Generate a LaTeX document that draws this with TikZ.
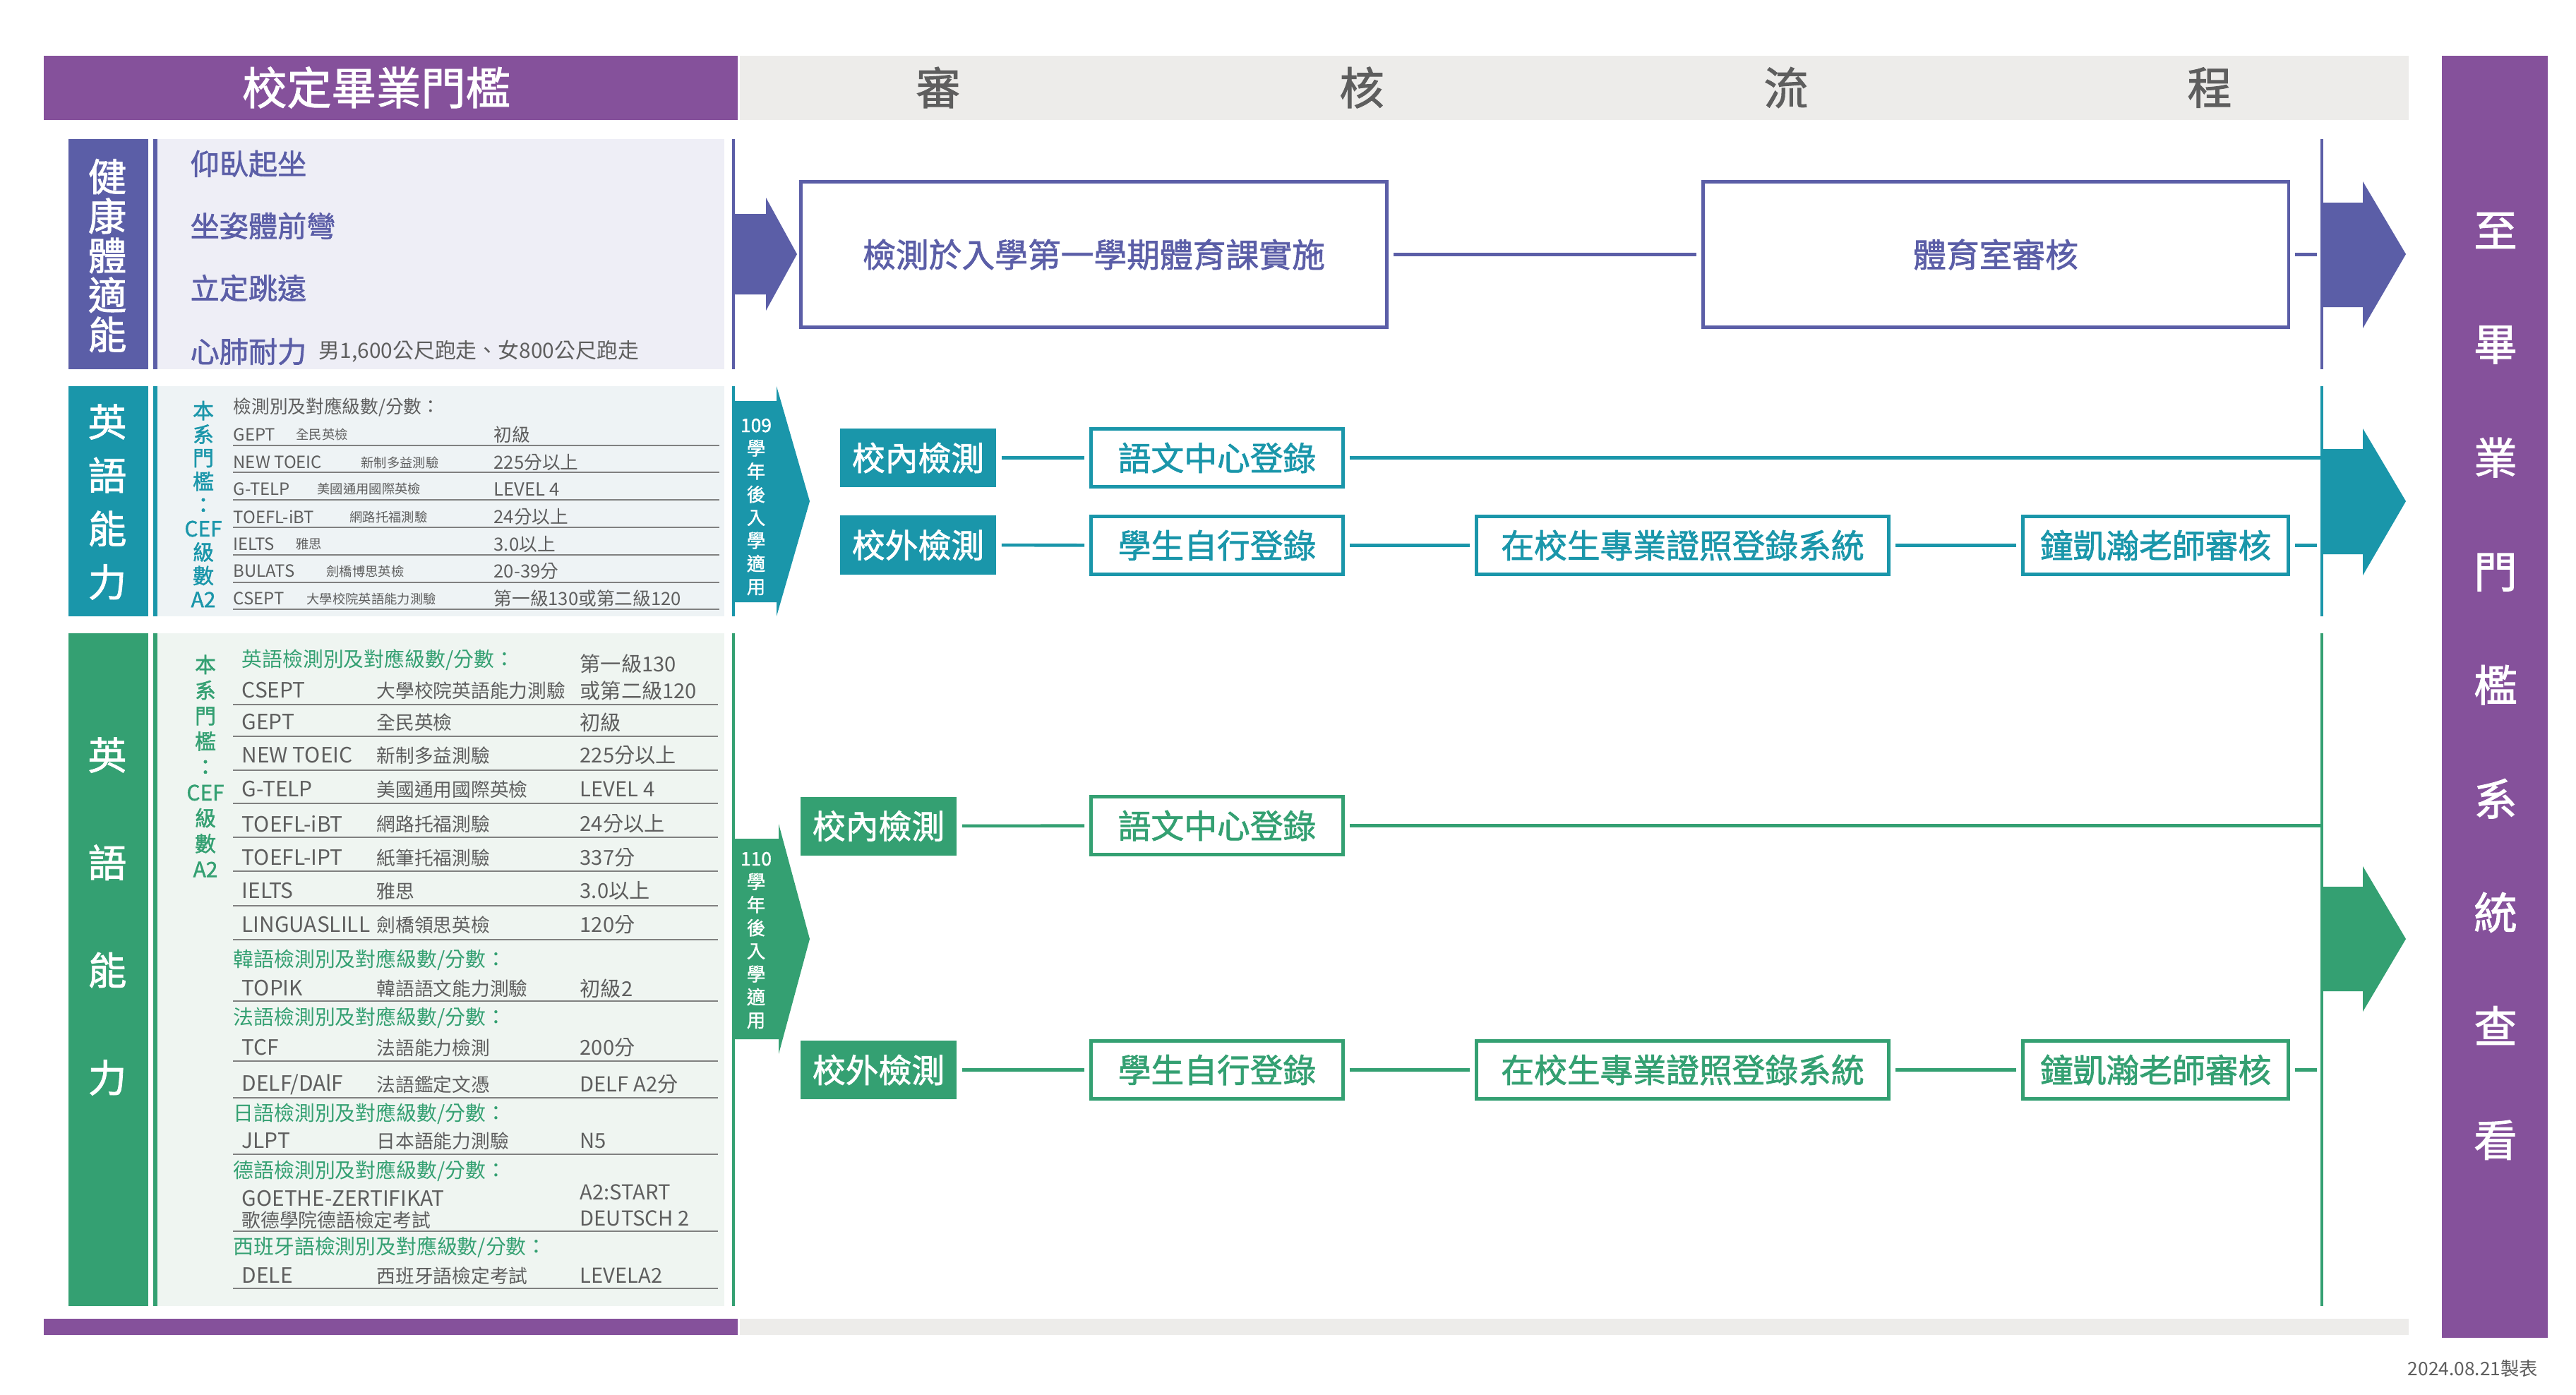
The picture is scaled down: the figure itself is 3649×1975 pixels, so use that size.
\documentclass[tikz,border=0pt]{standalone}
\usepackage{fontspec}
\setmainfont{Noto Sans CJK TC}
\newfontfamily\semib[FakeBold=1.5]{Noto Sans CJK TC}
\usetikzlibrary{positioning,calc}
\definecolor{grape}{HTML}{85519B}
\definecolor{indigo}{HTML}{5B5EA7}
\definecolor{lagoon}{HTML}{1A96AA}
\definecolor{jade}{HTML}{34A072}
\definecolor{mist}{HTML}{EEEEF6}
\definecolor{ice}{HTML}{EEF3F5}
\definecolor{mint}{HTML}{EFF5F1}
\definecolor{fog}{HTML}{EDECEA}
\definecolor{ink}{HTML}{5E5E5E}
\definecolor{rule}{HTML}{808080}
\newcommand{\pts}[2]{\fontsize{#1pt}{#2pt}\selectfont}
\tikzset{
  headtxt/.style={inner sep=0pt,font=\semib\pts{18}{20}},
  sidetxt/.style={text=white,align=center,inner sep=0pt,font=\semib\pts{17.5}{45.8}},
  bartxt/.style={text=white,align=center,inner sep=0pt,font=\semib\pts{15.5}{#1}},
  itemtxt/.style={anchor=west,inner sep=0pt,text=indigo,font=\semib\pts{11.7}{13}},
  notetxt/.style={anchor=west,inner sep=0pt,text=ink,font=\pts{8.5}{10}},
  cefv/.style={text=#1,align=center,inner sep=0pt},
  tagtxt/.style={text=white,align=center,inner sep=0pt,font=\semib\pts{7.5}{9.3}},
  thead/.style={anchor=west,inner sep=0pt,text=ink,font=\pts{7.3}{8}},
  tabbr/.style={anchor=west,inner sep=0pt,text=ink,font=\pts{6.8}{8}},
  tname/.style={anchor=west,inner sep=0pt,text=ink,font=\pts{5.2}{6}},
  tval/.style={anchor=west,inner sep=0pt,text=ink,font=\pts{7.3}{8}},
  ghead/.style={anchor=west,inner sep=0pt,text=jade,font=\pts{8.2}{9}},
  gabbr/.style={anchor=west,inner sep=0pt,text=ink,font=\pts{8.5}{9}},
  gname/.style={anchor=west,inner sep=0pt,text=ink,font=\pts{7.6}{9}},
  gval/.style={anchor=west,inner sep=0pt,text=ink,font=\pts{8.3}{9}},
  rowrule/.style={draw=rule,line width=0.6pt},
  testbox/.style={fill=#1,text=white,minimum width=2.21cm,minimum height=0.83cm,
    inner sep=0pt,font=\semib\pts{13.3}{15}},
  flowbox/.style={draw=#1,fill=white,text=#1,line width=1.3pt,minimum height=0.82cm,
    inner sep=0pt,font=\semib\pts{13.3}{15}},
  link/.style={draw=#1,line width=1.3pt,shorten <=2pt,shorten >=2pt},
  edgeline/.style={draw=#1,line width=1.3pt},
}

\begin{document}
\begin{tikzpicture}[x=0.01cm,y=-0.01cm]
  \fill[white] (0,0) rectangle (3649,1975);
  \useasboundingbox (0,0) rectangle (3649,1975);

  % header and frame
  \fill[grape] (62,79) rectangle (1045,170);
  \fill[fog] (1048,79) rectangle (3412,170);
  \node[headtxt,text=white] (gate) at (533,124) {校定畢業門檻};
  \node[headtxt,text=ink] (h1) at (1329,124) {審};
  \node[headtxt,text=ink] (h2) at (1929,124) {核};
  \node[headtxt,text=ink] (h3) at (2530,124) {流};
  \node[headtxt,text=ink] (h4) at (3130,124) {程};
  \fill[grape] (3459,79) rectangle (3609,1895);
  \node[sidetxt] (goal) at (3535,972) {至\\畢\\業\\門\\檻\\系\\統\\查\\看};
  \fill[grape] (62,1868) rectangle (1045,1891);
  \fill[fog] (1048,1868) rectangle (3412,1891);
  \node[anchor=east,inner sep=0pt,text=ink,font=\pts{7.5}{9}] (date) at (3596,1938) {2024.08.21製表};

  % fitness
  \fill[indigo] (97,197) rectangle (210,523);
  \fill[indigo] (217,197) rectangle (223,523);
  \fill[mist] (223,197) rectangle (1026,523);
  \draw[edgeline=indigo] (1039,197) -- (1039,523);
  \node[bartxt=15.9] (fit) at (152,362) {健\\康\\體\\適\\能};
  \node[itemtxt] (sit) at (269,232) {仰臥起坐};
  \node[itemtxt] (reach) at (269,320) {坐姿體前彎};
  \node[itemtxt] (jump) at (269,408) {立定跳遠};
  \node[itemtxt] (run) at (269,498) {心肺耐力};
  \node[notetxt,right=0.16cm of run] (runnote) {男1,600公尺跑走、女800公尺跑走};
  \fill[indigo] (1039,303) -- (1085,303) -- (1085,280) -- (1129,360) -- (1085,440) -- (1085,417) -- (1039,417) -- cycle;
  \node[flowbox=indigo,minimum width=8.30cm,minimum height=2.06cm] (pe) at (1549.5,360.5) {檢測於入學第一學期體育課實施};
  \node[flowbox=indigo,minimum width=8.29cm,minimum height=2.06cm] (gym) at (2827,360.5) {體育室審核};
  \coordinate (peend) at (3289,360.5);
  \draw[link=indigo] (pe) -- (gym);
  \draw[link=indigo] (gym) -- (peend);
  \draw[edgeline=indigo] (3289,197) -- (3289,523);
  \fill[indigo] (3289,287) -- (3347,287) -- (3347,257) -- (3408,360) -- (3347,465) -- (3347,435) -- (3289,435) -- cycle;

  % english, 109
  \fill[lagoon] (97,547) rectangle (210,873);
  \fill[lagoon] (217,547) rectangle (223,873);
  \fill[ice] (223,547) rectangle (1026,873);
  \draw[edgeline=lagoon] (1039,547) -- (1039,873);
  \node[bartxt=21.5] (engA) at (152,711) {英\\語\\能\\力};
  \node[cefv=lagoon,font=\semib\pts{8.5}{9.5}] (tcef) at (288,714) {本\\系\\門\\檻\\：\\CEF\\級\\數\\A2};
  \node[thead] (th) at (330,577) {檢測別及對應級數/分數：};
  \node[tabbr] (t1a) at (330,616) {GEPT};
  \node[tname] (t1b) at (419,616) {全民英檢};
  \node[tval] (t1c) at (699,616) {初級};
  \draw[rowrule] (330,631) -- (1019,631);
  \node[tabbr] (t2a) at (330,655) {NEW TOEIC};
  \node[tname] (t2b) at (511,655) {新制多益測驗};
  \node[tval] (t2c) at (699,655) {225分以上};
  \draw[rowrule] (330,669) -- (1019,669);
  \node[tabbr] (t3a) at (330,693) {G-TELP};
  \node[tname] (t3b) at (449,693) {美國通用國際英檢};
  \node[tval] (t3c) at (699,693) {LEVEL 4};
  \draw[rowrule] (330,708) -- (1019,708);
  \node[tabbr] (t4a) at (330,732) {TOEFL-iBT};
  \node[tname] (t4b) at (495,732) {網路托福測驗};
  \node[tval] (t4c) at (699,732) {24分以上};
  \draw[rowrule] (330,747) -- (1019,747);
  \node[tabbr] (t5a) at (330,771) {IELTS};
  \node[tname] (t5b) at (419,771) {雅思};
  \node[tval] (t5c) at (699,771) {3.0以上};
  \draw[rowrule] (330,786) -- (1019,786);
  \node[tabbr] (t6a) at (330,809) {BULATS};
  \node[tname] (t6b) at (462,809) {劍橋博思英檢};
  \node[tval] (t6c) at (699,809) {20-39分};
  \draw[rowrule] (330,825) -- (1019,825);
  \node[tabbr] (t7a) at (330,848) {CSEPT};
  \node[tname] (t7b) at (434,848) {大學校院英語能力測驗};
  \node[tval] (t7c) at (699,848) {第一級130或第二級120};
  \draw[rowrule] (330,863) -- (1019,863);
  \fill[lagoon] (1039,568) -- (1100,568) -- (1100,547) -- (1147,710) -- (1100,873) -- (1100,853) -- (1039,853) -- cycle;
  \node[tagtxt] (tagA) at (1071,718) {109\\學\\年\\後\\入\\學\\適\\用};
  \node[testbox=lagoon] (inA) at (1300.5,648.5) {校內檢測};
  \node[flowbox=lagoon,minimum width=3.57cm] (langA) at (1724,648.5) {語文中心登錄};
  \node[testbox=lagoon] (outA) at (1300.5,772) {校外檢測};
  \node[flowbox=lagoon,minimum width=3.57cm] (selfA) at (1724,772.5) {學生自行登錄};
  \node[flowbox=lagoon,minimum width=5.84cm] (certA) at (2383.5,772.5) {在校生專業證照登錄系統};
  \node[flowbox=lagoon,minimum width=3.76cm] (kaiA) at (3053.5,772.5) {鐘凱瀚老師審核};
  \coordinate (endA) at (3289,648.5);
  \coordinate (endB) at (3289,772.5);
  \draw[link=lagoon] (inA) -- (langA);
  \draw[link=lagoon,shorten >=0pt] (langA) -- (endA);
  \draw[link=lagoon] (outA) -- (selfA);
  \draw[link=lagoon] (selfA) -- (certA);
  \draw[link=lagoon] (certA) -- (kaiA);
  \draw[link=lagoon] (kaiA) -- (endB);
  \draw[edgeline=lagoon] (3289,547) -- (3289,873);
  \fill[lagoon] (3289,636) -- (3347,636) -- (3347,607) -- (3408,710) -- (3347,815) -- (3347,785) -- (3289,785) -- cycle;

  % english, 110
  \fill[jade] (97,897) rectangle (210,1850);
  \fill[jade] (217,897) rectangle (223,1850);
  \fill[mint] (223,897) rectangle (1026,1850);
  \draw[edgeline=jade] (1039,897) -- (1039,1850);
  \node[bartxt=43.3] (engB) at (152,1298) {英\\語\\能\\力};
  \node[cefv=jade,font=\semib\pts{8.5}{10.3}] (gcef) at (291,1085) {本\\系\\門\\檻\\：\\CEF\\級\\數\\A2};
  \node[ghead] (gh1) at (342,935) {英語檢測別及對應級數/分數：};
  \node[gval] (g0c) at (821,940) {第一級130};
  \node[gabbr] (g1a) at (342,978) {CSEPT};
  \node[gname] (g1b) at (533,978) {大學校院英語能力測驗};
  \node[gval] (g1c) at (821,978) {或第二級120};
  \draw[rowrule] (330,998) -- (1017,998);
  \node[gabbr] (g2a) at (342,1023) {GEPT};
  \node[gname] (g2b) at (533,1023) {全民英檢};
  \node[gval] (g2c) at (821,1023) {初級};
  \draw[rowrule] (330,1043) -- (1017,1043);
  \node[gabbr] (g3a) at (342,1070) {NEW TOEIC};
  \node[gname] (g3b) at (533,1070) {新制多益測驗};
  \node[gval] (g3c) at (821,1070) {225分以上};
  \draw[rowrule] (330,1091) -- (1017,1091);
  \node[gabbr] (g4a) at (342,1118) {G-TELP};
  \node[gname] (g4b) at (533,1118) {美國通用國際英檢};
  \node[gval] (g4c) at (821,1118) {LEVEL 4};
  \draw[rowrule] (330,1138) -- (1017,1138);
  \node[gabbr] (g5a) at (342,1167) {TOEFL-iBT};
  \node[gname] (g5b) at (533,1167) {網路托福測驗};
  \node[gval] (g5c) at (821,1167) {24分以上};
  \draw[rowrule] (330,1186) -- (1017,1186);
  \node[gabbr] (g6a) at (342,1215) {TOEFL-IPT};
  \node[gname] (g6b) at (533,1215) {紙筆托福測驗};
  \node[gval] (g6c) at (821,1215) {337分};
  \draw[rowrule] (330,1234) -- (1017,1234);
  \node[gabbr] (g7a) at (342,1262) {IELTS};
  \node[gname] (g7b) at (533,1262) {雅思};
  \node[gval] (g7c) at (821,1262) {3.0以上};
  \draw[rowrule] (330,1283) -- (1017,1283);
  \node[gabbr] (g8a) at (342,1310) {LINGUASLILL};
  \node[gname] (g8b) at (533,1310) {劍橋領思英檢};
  \node[gval] (g8c) at (821,1310) {120分};
  \draw[rowrule] (330,1331) -- (1017,1331);
  \node[ghead] (gh2) at (330,1360) {韓語檢測別及對應級數/分數：};
  \node[gabbr] (g9a) at (342,1400) {TOPIK};
  \node[gname] (g9b) at (533,1400) {韓語語文能力測驗};
  \node[gval] (g9c) at (821,1400) {初級2};
  \draw[rowrule] (330,1418) -- (1017,1418);
  \node[ghead] (gh3) at (330,1442) {法語檢測別及對應級數/分數：};
  \node[gabbr] (g10a) at (342,1484) {TCF};
  \node[gname] (g10b) at (533,1484) {法語能力檢測};
  \node[gval] (g10c) at (821,1484) {200分};
  \draw[rowrule] (330,1503) -- (1017,1503);
  \node[gabbr] (g11a) at (342,1536) {DELF/DAlF};
  \node[gname] (g11b) at (533,1536) {法語鑑定文憑};
  \node[gval] (g11c) at (821,1536) {DELF A2分};
  \draw[rowrule] (330,1555) -- (1017,1555);
  \node[ghead] (gh4) at (330,1578) {日語檢測別及對應級數/分數：};
  \node[gabbr] (g12a) at (342,1616) {JLPT};
  \node[gname] (g12b) at (533,1616) {日本語能力測驗};
  \node[gval] (g12c) at (821,1616) {N5};
  \draw[rowrule] (330,1635) -- (1017,1635);
  \node[ghead] (gh5) at (330,1659) {德語檢測別及對應級數/分數：};
  \node[gabbr] (g13a) at (342,1698) {GOETHE-ZERTIFIKAT};
  \node[gname] (g13b) at (342,1728) {歌德學院德語檢定考試};
  \node[gval] (g13c) at (821,1689) {A2:START};
  \node[gval] (g13d) at (821,1726) {DEUTSCH 2};
  \draw[rowrule] (330,1744) -- (1017,1744);
  \node[ghead] (gh6) at (330,1767) {西班牙語檢測別及對應級數/分數：};
  \node[gabbr] (g14a) at (342,1807) {DELE};
  \node[gname] (g14b) at (533,1807) {西班牙語檢定考試};
  \node[gval] (g14c) at (821,1807) {LEVELA2};
  \draw[rowrule] (330,1825) -- (1017,1825);
  \fill[jade] (1039,1188) -- (1103,1188) -- (1103,1167) -- (1147,1330) -- (1103,1493) -- (1103,1472) -- (1039,1472) -- cycle;
  \node[tagtxt] (tagB) at (1071,1332) {110\\學\\年\\後\\入\\學\\適\\用};
  \node[testbox=jade] (inB) at (1244.5,1170) {校內檢測};
  \node[flowbox=jade,minimum width=3.57cm] (langB) at (1724,1169.5) {語文中心登錄};
  \node[testbox=jade] (outB) at (1244.5,1515.5) {校外檢測};
  \node[flowbox=jade,minimum width=3.57cm] (selfB) at (1724,1515.5) {學生自行登錄};
  \node[flowbox=jade,minimum width=5.84cm] (certB) at (2383.5,1515.5) {在校生專業證照登錄系統};
  \node[flowbox=jade,minimum width=3.76cm] (kaiB) at (3053.5,1515.5) {鐘凱瀚老師審核};
  \coordinate (endC) at (3289,1169.5);
  \coordinate (endD) at (3289,1515.5);
  \draw[link=jade] (inB) -- (langB);
  \draw[link=jade,shorten >=0pt] (langB) -- (endC);
  \draw[link=jade] (outB) -- (selfB);
  \draw[link=jade] (selfB) -- (certB);
  \draw[link=jade] (certB) -- (kaiB);
  \draw[link=jade] (kaiB) -- (endD);
  \draw[edgeline=jade] (3289,897) -- (3289,1850);
  \fill[jade] (3289,1256) -- (3347,1256) -- (3347,1227) -- (3408,1330) -- (3347,1433) -- (3347,1404) -- (3289,1404) -- cycle;
\end{tikzpicture}
\end{document}
